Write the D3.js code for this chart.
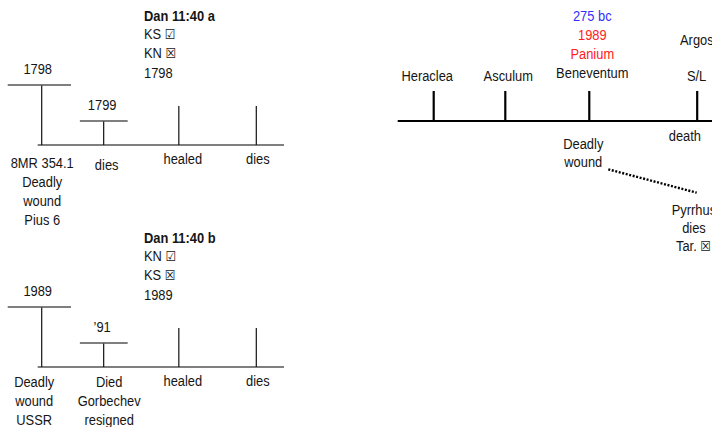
<!DOCTYPE html>
<html><head><meta charset="utf-8">
<script src="https://cdn.jsdelivr.net/npm/d3@7"></script>
<style>
html,body{margin:0;padding:0;background:#fff;}
text{font-family:"Liberation Sans",Arial,sans-serif;font-size:15px;fill:#151515;}
tspan.box{font-family:"DejaVu Sans",sans-serif;font-size:14px;}
tspan.boxx{font-weight:bold;}
</style></head>
<body><svg id="c" width="712" height="427"></svg>
<script>
// ---- data ----
const headerA = ["Dan 11:40 a", "KS \u2611", "KN \u2612", "1798"];
const headerB = ["Dan 11:40 b", "KN \u2611", "KS \u2612", "1989"];
const capYearsA = ["1798", "1799"];
const capYearsB = ["1989", "\u201991"];
const labelsA = [["8MR 354.1", "Deadly", "wound", "Pius 6"], ["dies"], ["healed"], ["dies"]];
const labelsB = [["Deadly", "wound", "USSR"], ["Died", "Gorbechev", "resigned"], ["healed"], ["dies"]];
const stemStage = [0, 0.8, 1.77, 2.77];
const stemLevel = [2.5, 1, 1.625, 1.625];

const battles = ["Heraclea", "Asculum", "Beneventum", "S/L"];
const battleStage = [0, 1, 2.173, 3.68];
const beneventumNotes = ["275 bc", "1989", "Panium"];
const argosLabel = "Argos";
const belowLabels = [["Deadly", "wound"], ["death"]];
const pyrrhusLines = ["Pyrrhus", "dies", "Tar. \u2612"];

const svg = d3.select("#c");
const SX = 0.86;
function txt(g, x, y, s, anchor) {
  const t = g.append("text").attr("transform", `translate(${x},${y}) scale(${SX},1)`)
    .attr("text-anchor", anchor || "start");
  const m = s.match(/^(.*?)([\u2611\u2612])$/);
  if (m) {
    t.append("tspan").text(m[1]);
    t.append("tspan").attr("class", m[2] === "\u2612" ? "box boxx" : "box").text(m[2]);
  } else t.text(s);
  return t;
}

// ---- left panels ----
const xL = d3.scaleLinear().domain([0, 2.77]).range([41.7, 256.3]);
const hL = d3.scaleLinear().domain([0, 1]).range([0, 24]);

function panel(dy, header, caps, labels, labelCfg) {
  const g = svg.append("g").attr("transform", `translate(0,${dy})`);
  const base = 145;
  g.append("line").attr("x1", 37.7).attr("x2", 284).attr("y1", base).attr("y2", base)
    .attr("stroke", "#555").attr("stroke-width", 1.3);
  g.selectAll("line.stem").data(stemStage).join("line").attr("class", "stem")
    .attr("x1", d => xL(d)).attr("x2", d => xL(d))
    .attr("y1", (d, i) => base - hL(stemLevel[i])).attr("y2", base)
    .attr("stroke", "#111").attr("stroke-width", 1.2);
  const capExt = [[-34, 29.3], [-23.8, 24]];
  caps.forEach((t, i) => {
    const x = xL(stemStage[i]), y = base - hL(stemLevel[i]);
    g.append("line").attr("x1", x + capExt[i][0]).attr("x2", x + capExt[i][1])
      .attr("y1", y).attr("y2", y).attr("stroke", "#555").attr("stroke-width", 1.3);
    txt(g, i === 0 ? x - 4 : x - 1.5, y - 11, t, "middle");
  });
  const hy = [21, 38.5, 58, 77.5];
  header.forEach((t, i) => {
    txt(g, 144, hy[i], t).style("font-weight", i === 0 ? "bold" : "normal");
  });
  labels.forEach((lines, i) => {
    const cfg = labelCfg[i];
    lines.forEach((t, j) => {
      txt(g, xL(stemStage[i]) + cfg.dx, cfg.y + j * 19, t, "middle");
    });
  });
}
panel(0, headerA, capYearsA, labelsA, [{dx: 0.5, y: 168}, {dx: 3, y: 170}, {dx: 4, y: 164}, {dx: 1.5, y: 164}]);
panel(222, headerB, capYearsB, labelsB, [{dx: -7.5, y: 165}, {dx: 5.5, y: 165}, {dx: 4, y: 164}, {dx: 1.5, y: 164}]);

// ---- right timeline ----
const xR = d3.scaleLinear().domain([0, 1]).range([433.7, 505.3]);
const baseR = 121;
const gR = svg.append("g");
gR.append("line").attr("x1", 397.7).attr("x2", 712).attr("y1", baseR).attr("y2", baseR)
  .attr("stroke", "#000").attr("stroke-width", 2.2);
gR.selectAll("line.tick").data(battleStage).join("line").attr("class", "tick")
  .attr("x1", d => xR(d)).attr("x2", d => xR(d)).attr("y1", baseR - 30).attr("y2", baseR)
  .attr("stroke", "#000").attr("stroke-width", 2.2);
const battleDx = [-6.5, 3, 3, -0.6];
const battleY = [80.7, 80.7, 78.4, 80.7];
battles.forEach((d, i) => txt(gR, xR(battleStage[i]) + battleDx[i], battleY[i], d, "middle"));
const noteColors = ["#3030ff", "#ff2020", "#ff2020"];
beneventumNotes.forEach((t, i) => {
  txt(gR, xR(battleStage[2]) + 3, 21.4 + i * 18.8, t, "middle").style("fill", noteColors[i]);
});
txt(gR, 680, 44.7, argosLabel);
belowLabels[0].forEach((t, j) => txt(gR, xR(battleStage[2]) - 6, 148.7 + j * 18, t, "middle"));
txt(gR, xR(battleStage[3]) - 12.3, 140.7, belowLabels[1][0], "middle");
gR.append("line").attr("x1", 608.3).attr("y1", 169.3).attr("x2", 696.7).attr("y2", 192.7)
  .attr("stroke", "#000").attr("stroke-width", 2.4).attr("stroke-dasharray", "2,1.6");
const pyX = [671.7, 694, 676];
pyrrhusLines.forEach((t, i) => txt(gR, pyX[i], 214.7 + i * 18, t, i === 1 ? "middle" : "start"));
</script></body></html>
